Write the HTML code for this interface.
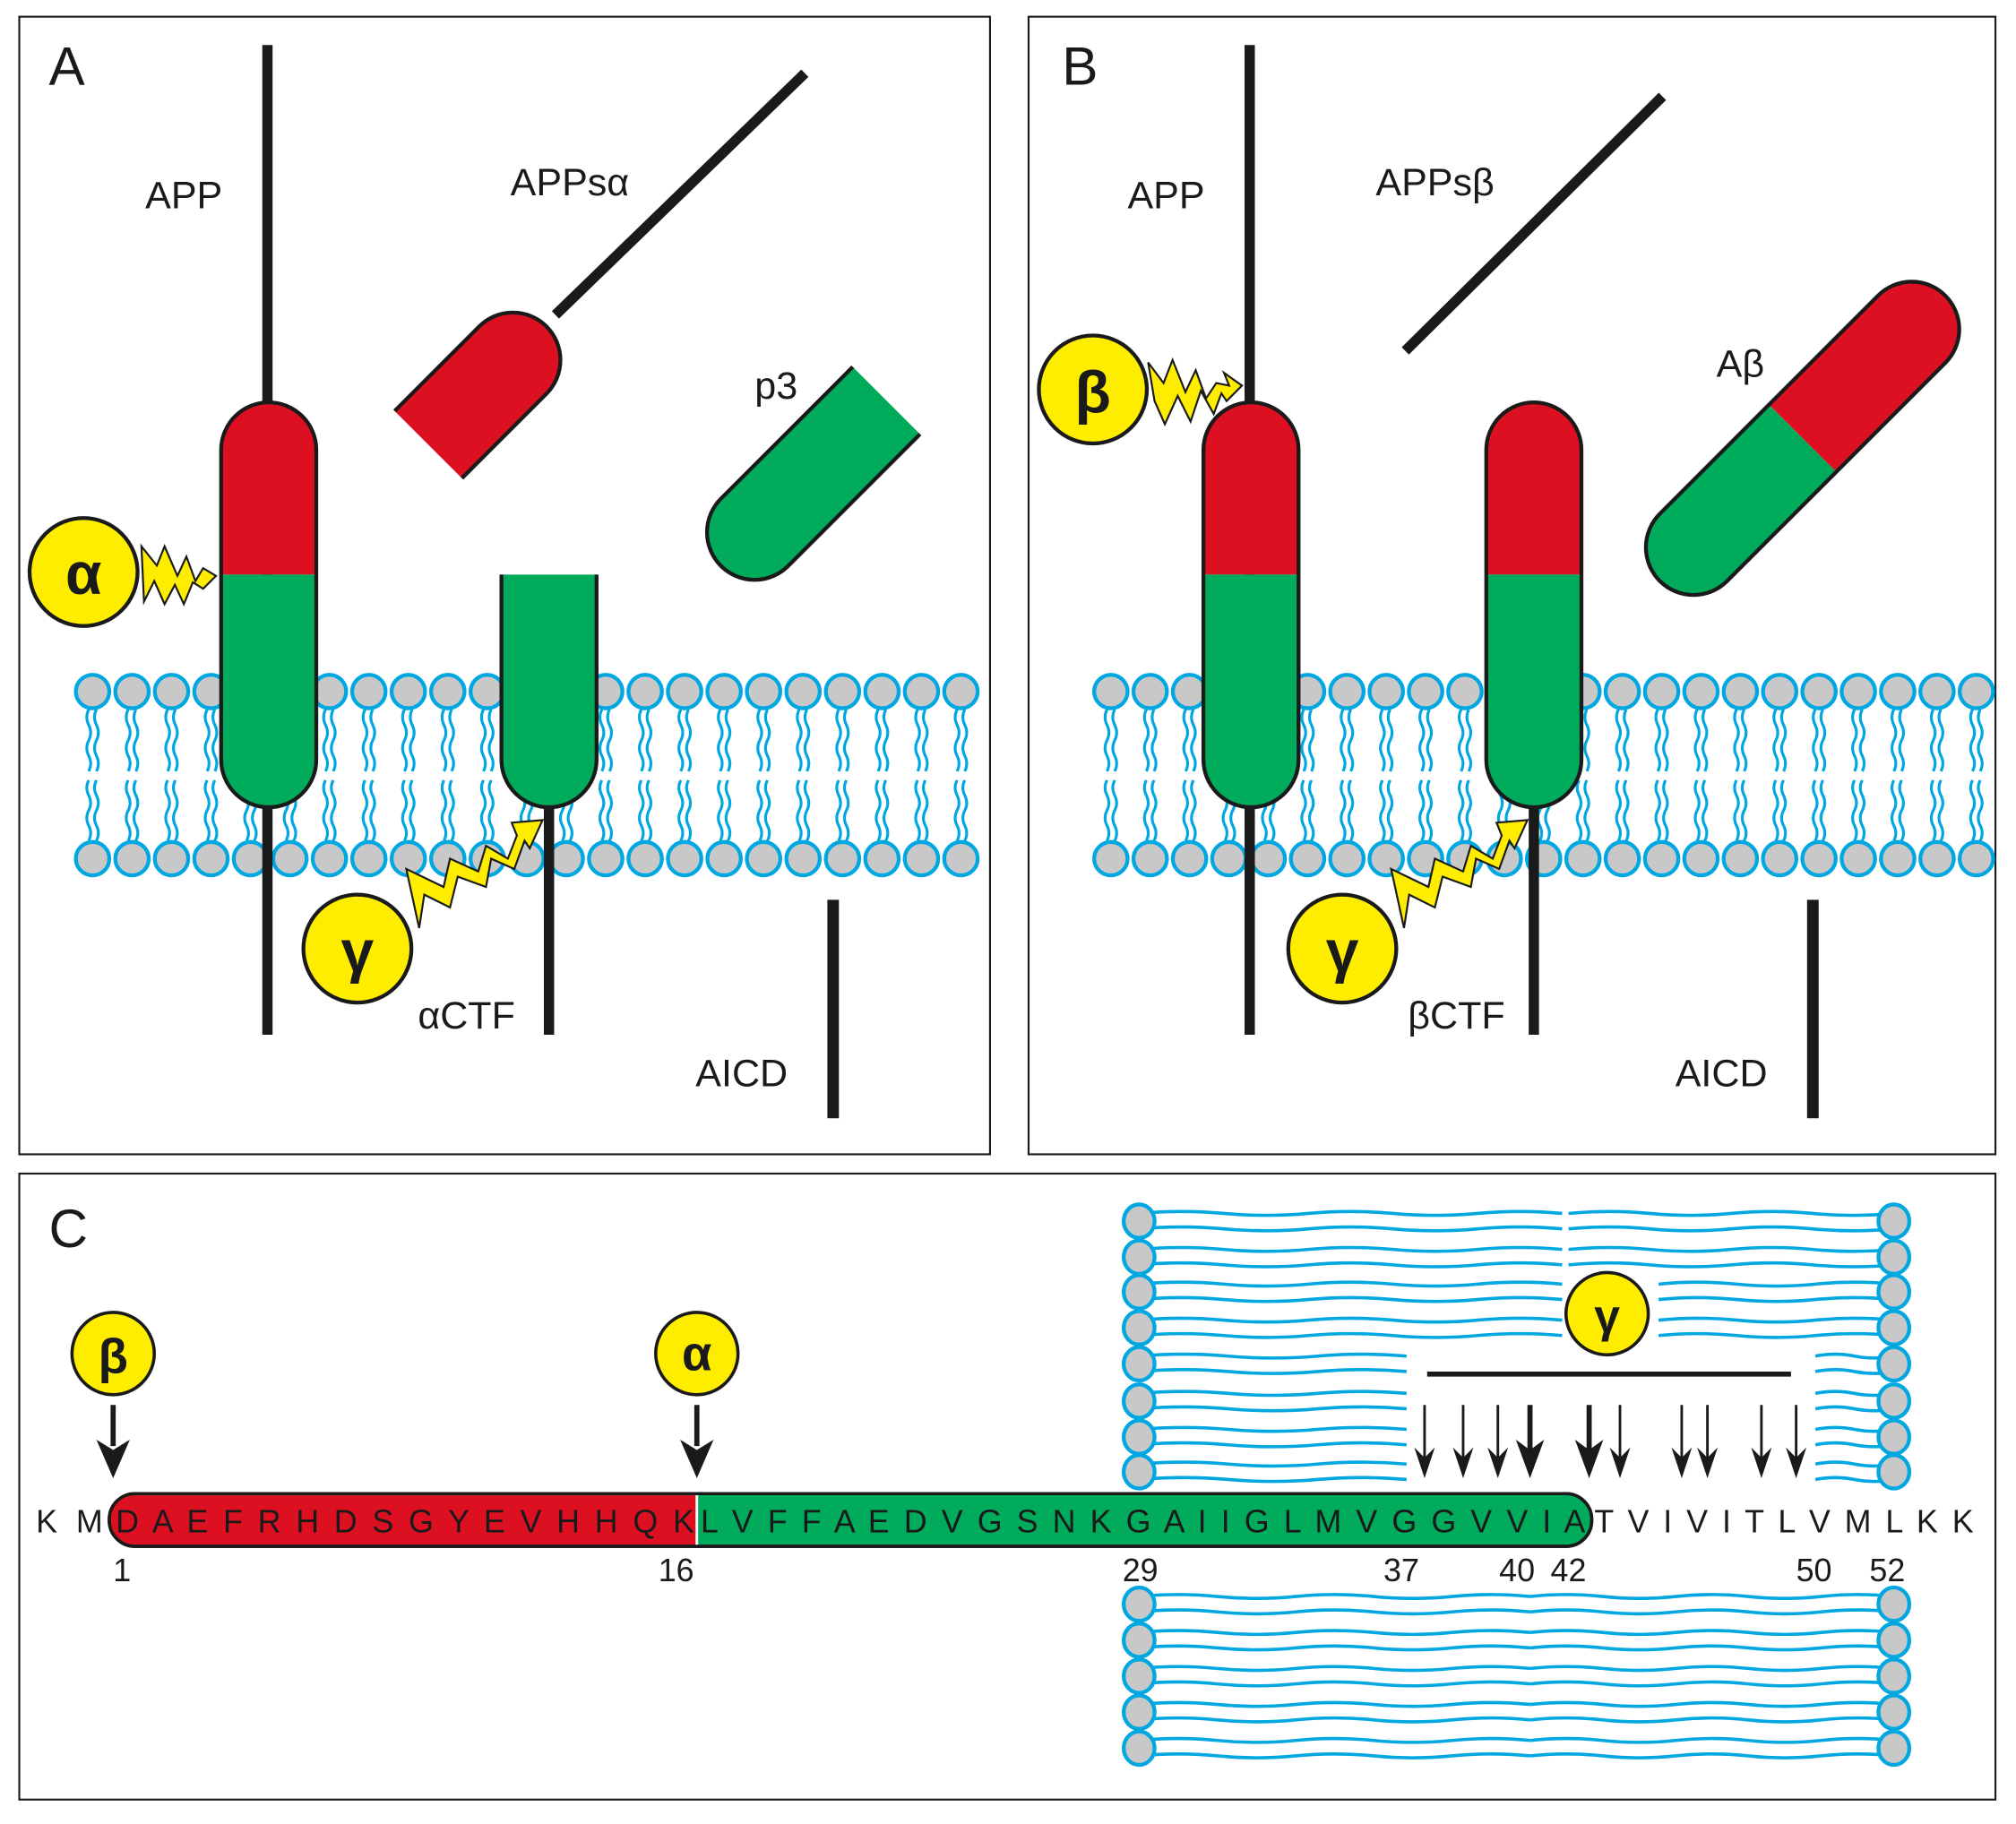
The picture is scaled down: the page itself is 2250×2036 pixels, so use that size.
<!DOCTYPE html>
<html><head><meta charset="utf-8"><style>
html,body{margin:0;padding:0;background:#fff}
svg{display:block}
text{font-family:"Liberation Sans",sans-serif;fill:#1a1a1a}
</style></head><body>
<svg id="s" width="2250" height="2036" viewBox="0 0 1568 1419" preserveAspectRatio="none" xmlns="http://www.w3.org/2000/svg">
<rect x="0" y="0" width="1568" height="1419" fill="#fff"/>
<rect x="15" y="13" width="755" height="885" fill="none" stroke="#1a1a1a" stroke-width="1.5"/>
<rect x="800" y="13" width="752" height="885" fill="none" stroke="#1a1a1a" stroke-width="1.5"/>
<rect x="15" y="913" width="1537" height="487" fill="none" stroke="#1a1a1a" stroke-width="1.5"/>
<g id="memA"></g><g id="memB"></g><g id="memC"></g>

<!-- Panel A -->
<line x1="208" y1="35" x2="208" y2="805" stroke="#1a1a1a" stroke-width="8"/>
<path d="M172,447 V350 A37,37 0 0 1 246,350 V447 Z" fill="#dc1020"/>
<path d="M172,447 V591 A37,37 0 0 0 246,591 V447 Z" fill="#00ab5c"/>
<path d="M172,350 A37,37 0 0 1 246,350 V591 A37,37 0 0 1 172,591 Z" fill="none" stroke="#1a1a1a" stroke-width="3"/>
<line x1="427" y1="628" x2="427" y2="805" stroke="#1a1a1a" stroke-width="8"/>
<path d="M390,447 V591 A37,37 0 0 0 464,591 V447" fill="#00ab5c" stroke="#1a1a1a" stroke-width="3"/>
<line x1="432" y1="245" x2="626" y2="57" stroke="#1a1a1a" stroke-width="8"/>
<g transform="translate(372,307) rotate(45)">
<path d="M-37,-38 A37,37 0 0 1 37,-38 V55 H-37 Z" fill="#dc1020"/>
<path d="M-37,55 V-38 A37,37 0 0 1 37,-38 V55" fill="none" stroke="#1a1a1a" stroke-width="3"/>
</g>
<g transform="translate(647,354) rotate(45)">
<path d="M-37,-60 V85 A37,37 0 0 0 37,85 V-60 Z" fill="#00ab5c"/>
<path d="M-37,-60 V85 A37,37 0 0 0 37,85 V-60" fill="none" stroke="#1a1a1a" stroke-width="3"/>
</g>
<line x1="648" y1="700" x2="648" y2="870" stroke="#1a1a1a" stroke-width="9"/>
<circle cx="65" cy="445" r="42" fill="#ffed00" stroke="#1a1a1a" stroke-width="3"/>
<text x="65" y="462" font-size="46" font-weight="bold" text-anchor="middle" font-family="Liberation Serif">α</text>
<path d="M110,425 L122,440 L128,425 L138,448 L145,433 L152,452 L158,442 L168,448 L158,458 L150,453 L143,470 L136,455 L128,470 L120,452 L112,468 Z" fill="#ffed00" stroke="#1a1a1a" stroke-width="1.5"/>
<circle cx="278" cy="738" r="42" fill="#ffed00" stroke="#1a1a1a" stroke-width="3"/>
<text x="278" y="756" font-size="46" font-weight="bold" text-anchor="middle" font-family="Liberation Serif">γ</text>
<path d="M316,676 L345,690 L350,668 L372,678 L378,658 L395,668 L402,650 L398,640 L422,638 L412,660 L408,654 L400,676 L382,668 L378,690 L356,682 L350,706 L330,696 L326,722 Z" fill="#ffed00" stroke="#1a1a1a" stroke-width="1.5"/>
<text x="38" y="66" font-size="42">A</text>
<text x="113" y="162" font-size="30">APP</text>
<text x="397" y="152" font-size="30">APPsα</text>
<text x="587" y="310" font-size="30">p3</text>
<text x="325" y="800" font-size="30">αCTF</text>
<text x="541" y="845" font-size="30">AICD</text>

<!-- Panel B -->
<line x1="972" y1="35" x2="972" y2="805" stroke="#1a1a1a" stroke-width="8"/>
<g transform="translate(764,0)">
<path d="M172,447 V350 A37,37 0 0 1 246,350 V447 Z" fill="#dc1020"/>
<path d="M172,447 V591 A37,37 0 0 0 246,591 V447 Z" fill="#00ab5c"/>
<path d="M172,350 A37,37 0 0 1 246,350 V591 A37,37 0 0 1 172,591 Z" fill="none" stroke="#1a1a1a" stroke-width="3"/>
</g>
<line x1="1193" y1="628" x2="1193" y2="805" stroke="#1a1a1a" stroke-width="8"/>
<g transform="translate(984,0)">
<path d="M172,447 V350 A37,37 0 0 1 246,350 V447 Z" fill="#dc1020"/>
<path d="M172,447 V591 A37,37 0 0 0 246,591 V447 Z" fill="#00ab5c"/>
<path d="M172,350 A37,37 0 0 1 246,350 V591 A37,37 0 0 1 172,591 Z" fill="none" stroke="#1a1a1a" stroke-width="3"/>
</g>
<line x1="1093" y1="273" x2="1293" y2="75" stroke="#1a1a1a" stroke-width="8"/>
<g transform="translate(1402,341) rotate(45)">
<path d="M-37,0 V-120 A37,37 0 0 1 37,-120 V0 Z" fill="#dc1020"/>
<path d="M-37,0 V120 A37,37 0 0 0 37,120 V0 Z" fill="#00ab5c"/>
<path d="M-37,-120 A37,37 0 0 1 37,-120 V120 A37,37 0 0 1 -37,120 Z" fill="none" stroke="#1a1a1a" stroke-width="3"/>
</g>
<line x1="1410" y1="700" x2="1410" y2="870" stroke="#1a1a1a" stroke-width="9"/>
<circle cx="850" cy="303" r="42" fill="#ffed00" stroke="#1a1a1a" stroke-width="3"/>
<text x="850" y="321" font-size="46" font-weight="bold" text-anchor="middle" font-family="Liberation Serif">β</text>
<path d="M893,282 L905,298 L912,280 L922,305 L930,288 L938,310 L946,298 L956,300 L952,290 L966,300 L954,312 L950,306 L944,322 L934,304 L926,328 L916,308 L906,330 L898,312 Z" fill="#ffed00" stroke="#1a1a1a" stroke-width="1.5"/>
<g transform="translate(766,0)">
<circle cx="278" cy="738" r="42" fill="#ffed00" stroke="#1a1a1a" stroke-width="3"/>
<text x="278" y="756" font-size="46" font-weight="bold" text-anchor="middle" font-family="Liberation Serif">γ</text>
<path d="M316,676 L345,690 L350,668 L372,678 L378,658 L395,668 L402,650 L398,640 L422,638 L412,660 L408,654 L400,676 L382,668 L378,690 L356,682 L350,706 L330,696 L326,722 Z" fill="#ffed00" stroke="#1a1a1a" stroke-width="1.5"/>
</g>
<text x="826" y="66" font-size="42">B</text>
<text x="877" y="162" font-size="30">APP</text>
<text x="1070" y="152" font-size="30">APPsβ</text>
<text x="1335" y="293" font-size="30">Aβ</text>
<text x="1095" y="800" font-size="30">βCTF</text>
<text x="1303" y="845" font-size="30">AICD</text>

<!-- Panel C -->
<text x="38" y="970" font-size="42">C</text>
<rect x="85" y="1162" width="1153" height="41" rx="20" fill="#00ab5c" stroke="#1a1a1a" stroke-width="2.5"/>
<path d="M542,1163.3 H105 A19,19 0 0 0 105,1201.7 H542 Z" fill="#dc1020"/>
<line x1="542" y1="1163" x2="542" y2="1203" stroke="#fff" stroke-width="2"/>
<rect x="85" y="1162" width="1153" height="41" rx="20" fill="none" stroke="#1a1a1a" stroke-width="2.5"/>
<text x="28" y="1192" font-size="25" textLength="52" lengthAdjust="spacing">K M</text>
<text x="90" y="1192" font-size="25" textLength="450" lengthAdjust="spacing">D A E F R H D S G Y E V H H Q K</text>
<text x="545" y="1192" font-size="25" textLength="688" lengthAdjust="spacing">L V F F A E D V G S N K G A I I G L M V G G V V I A</text>
<text x="1240" y="1192" font-size="25" textLength="295" lengthAdjust="spacing">T V I V I T L V M L K K</text>
<g font-size="25">
<text x="88" y="1230">1</text><text x="512" y="1230">16</text><text x="873" y="1230">29</text>
<text x="1076" y="1230">37</text><text x="1166" y="1230">40</text><text x="1206" y="1230">42</text>
<text x="1397" y="1230">50</text><text x="1454" y="1230">52</text>
</g>
<circle cx="88" cy="1053" r="32" fill="#ffed00" stroke="#1a1a1a" stroke-width="2.5"/>
<text x="88" y="1068" font-size="38" font-weight="bold" text-anchor="middle" font-family="Liberation Serif">β</text>
<line x1="88" y1="1093" x2="88" y2="1125" stroke="#1a1a1a" stroke-width="4"/>
<path d="M75,1120 L88,1150 L101,1120 L88,1128 Z" fill="#1a1a1a"/>
<circle cx="542" cy="1053" r="32" fill="#ffed00" stroke="#1a1a1a" stroke-width="2.5"/>
<text x="542" y="1066" font-size="38" font-weight="bold" text-anchor="middle" font-family="Liberation Serif">α</text>
<line x1="542" y1="1093" x2="542" y2="1125" stroke="#1a1a1a" stroke-width="4"/>
<path d="M529,1120 L542,1150 L555,1120 L542,1128 Z" fill="#1a1a1a"/>
<line x1="1110" y1="1069" x2="1393" y2="1069" stroke="#1a1a1a" stroke-width="4"/>
<g id="arrC"></g>
<g id="gam">
<ellipse cx="1250" cy="1022" rx="32" ry="32" fill="#ffed00" stroke="#1a1a1a" stroke-width="2.5"/>
<text x="1250" y="1036" font-size="36" font-weight="bold" text-anchor="middle" font-family="Liberation Serif">γ</text>
</g>
</svg>
<script>
(function(){
var NS="http://www.w3.org/2000/svg";
function add(p,t,a){var e=document.createElementNS(NS,t);for(var k in a)e.setAttribute(k,a[k]);p.appendChild(e);return e;}
var B="#00a7e1";
function vwave(g,x,y1,y2){var d="M"+x+","+y1;var n=4,h=(y2-y1)/n;for(var i=0;i<n;i++){var s=(i%2?1:-1)*3;d+=" Q"+(x+s)+","+(y1+h*i+h/2)+" "+x+","+(y1+h*(i+1));}
add(g,"path",{d:d,fill:"none",stroke:B,"stroke-width":2.2});}
function mem(id,x0,n,step){var g=document.getElementById(id);
for(var i=0;i<n;i++){var x=x0+i*step;
vwave(g,x-3,552,600);vwave(g,x+3,552,600);vwave(g,x-3,607,654);vwave(g,x+3,607,654);}
for(var i=0;i<n;i++){var x=x0+i*step;
add(g,"circle",{cx:x,cy:538,r:13,fill:"#c8c8c8",stroke:B,"stroke-width":3});
add(g,"circle",{cx:x,cy:668,r:13,fill:"#c8c8c8",stroke:B,"stroke-width":3});}}
mem("memA",72,23,30.7);mem("memB",864,23,30.6);
var gc=document.getElementById("memC");
function hwave(x1,x2,y){var d="M"+x1+","+y;var n=Math.max(2,Math.round(Math.abs(x2-x1)/60)),w=(x2-x1)/n;
for(var i=0;i<n;i++){var s=(i%2?1:-1)*3;d+=" Q"+(x1+w*i+w/2)+","+(y+s)+" "+(x1+w*(i+1))+","+y;}
add(gc,"path",{d:d,fill:"none",stroke:B,"stroke-width":2.5});}
var tops=[950,978,1005,1033,1061,1090,1118,1145];
tops.forEach(function(y,i){
 var le=i<4?1215:1094;hwave(886,le,y-6);hwave(886,le,y+6);
 var rs=i<2?1220:(i<4?1290:1412);hwave(rs,1473,y-6);hwave(rs,1473,y+6);
});
var bots=[1248,1276,1304,1332,1360];
bots.forEach(function(y){hwave(886,1190,y-6);hwave(886,1190,y+6);hwave(1190,1473,y-6);hwave(1190,1473,y+6);});
tops.concat(bots).forEach(function(y){
 add(gc,"ellipse",{cx:886,cy:y,rx:12,ry:13,fill:"#c8c8c8",stroke:B,"stroke-width":3});
 add(gc,"ellipse",{cx:1473,cy:y,rx:12,ry:13,fill:"#c8c8c8",stroke:B,"stroke-width":3});});
var ga=document.getElementById("arrC");
[[1108,0],[1138,0],[1165,0],[1190,1],[1236,1],[1260,0],[1308,0],[1328,0],[1370,0],[1397,0]].forEach(function(a){
 var x=a[0],b=a[1];
 add(ga,"line",{x1:x,y1:1093,x2:x,y2:1135,stroke:"#1a1a1a","stroke-width":b?4:2});
 var w=b?11:8,h=b?30:24;
 add(ga,"path",{d:"M"+(x-w)+","+(1150-h)+" L"+x+",1150 L"+(x+w)+","+(1150-h)+" L"+x+","+(1150-h+8)+" Z",fill:"#1a1a1a"});
});
})();
</script>
</body></html>
